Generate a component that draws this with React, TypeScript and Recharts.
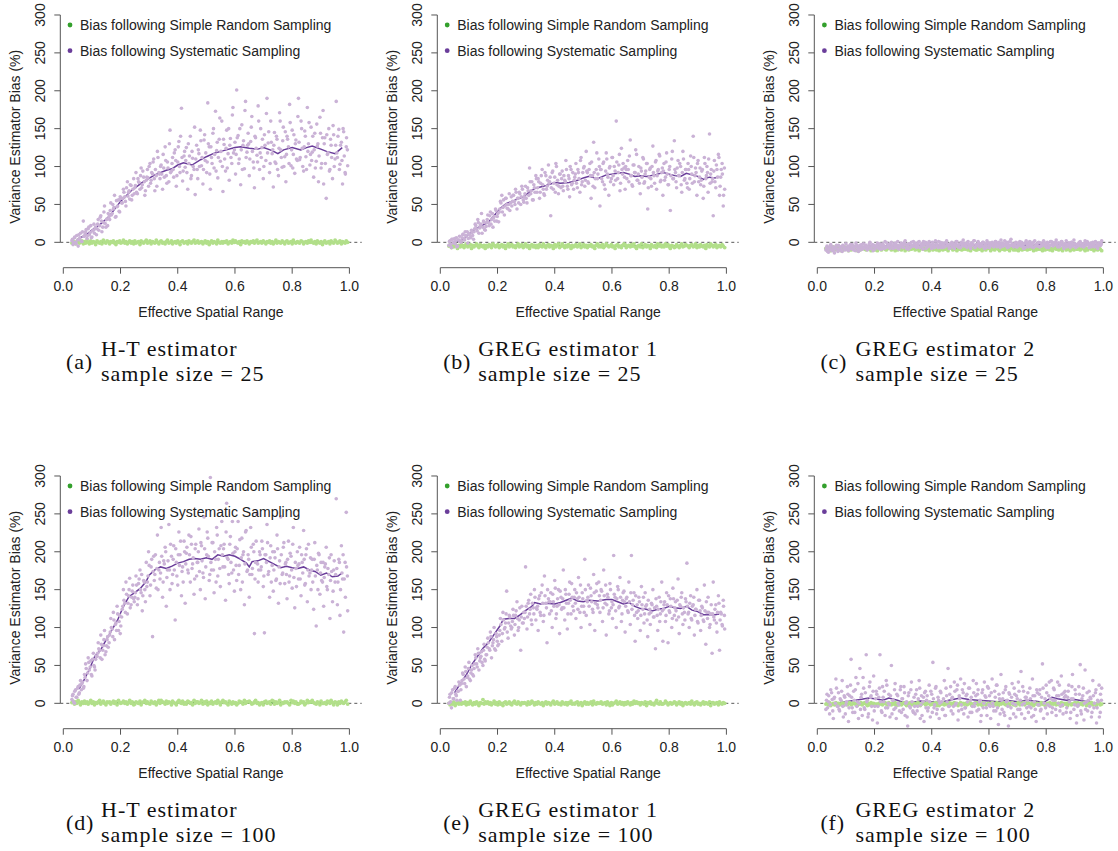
import React from 'react';
import { ComposedChart, Scatter, Line, XAxis, YAxis, ReferenceLine } from 'recharts';

// Effective spatial range of each simulated point (first and second batch, shared by all panels)
const sysX = [
  .030,.034,.039,.043,.047,.052,.056,.060,.065,.070,
  .074,.078,.083,.087,.091,.096,.100,.105,.109,.113,
  .118,.122,.127,.131,.135,.140,.144,.149,.153,.157,
  .162,.166,.171,.175,.179,.184,.188,.193,.197,.201,
  .206,.210,.215,.219,.224,.228,.232,.237,.241,.246,
  .250,.254,.259,.263,.268,.272,.276,.281,.285,.290,
  .294,.298,.303,.307,.312,.316,.320,.325,.329,.334,
  .338,.342,.347,.351,.356,.360,.364,.369,.373,.378,
  .382,.386,.391,.395,.400,.404,.408,.413,.417,.422,
  .426,.430,.435,.439,.444,.448,.452,.457,.461,.466,
  .470,.474,.479,.483,.488,.492,.496,.501,.505,.510,
  .514,.518,.523,.527,.532,.536,.540,.545,.549,.554,
  .558,.562,.567,.571,.576,.580,.584,.589,.593,.598,
  .602,.606,.611,.615,.620,.624,.628,.633,.637,.642,
  .646,.650,.655,.659,.664,.668,.672,.677,.681,.686,
  .690,.694,.699,.703,.708,.712,.716,.721,.725,.730,
  .734,.738,.743,.747,.752,.756,.760,.765,.769,.774,
  .778,.782,.787,.791,.796,.800,.804,.809,.813,.818,
  .822,.826,.831,.835,.840,.844,.848,.853,.857,.862,
  .866,.870,.875,.879,.884,.888,.892,.897,.901,.906,
  .910,.914,.919,.923,.928,.932,.936,.941,.945,.950,
  .954,.958,.963,.967,.972,.976,.980,.985,.989,.994,
];
const sysX2 = [
  .032,.036,.040,.045,.050,.054,.058,.063,.067,.072,
  .076,.080,.085,.089,.094,.098,.102,.107,.111,.116,
  .120,.124,.129,.133,.138,.142,.146,.151,.155,.160,
  .164,.168,.173,.177,.182,.186,.190,.195,.199,.204,
  .208,.212,.217,.221,.226,.230,.234,.239,.243,.248,
  .252,.256,.261,.265,.270,.274,.278,.283,.287,.292,
  .296,.300,.305,.309,.314,.318,.322,.327,.331,.336,
  .340,.344,.349,.353,.358,.362,.366,.371,.375,.380,
  .384,.388,.393,.397,.402,.406,.410,.415,.419,.424,
  .428,.432,.437,.441,.446,.450,.454,.459,.463,.468,
  .472,.476,.481,.485,.490,.494,.498,.503,.507,.512,
  .516,.520,.525,.529,.534,.538,.542,.547,.551,.556,
  .560,.564,.569,.573,.578,.582,.586,.591,.595,.600,
  .604,.608,.613,.617,.622,.626,.630,.635,.639,.644,
  .648,.652,.657,.661,.666,.670,.674,.679,.683,.688,
  .692,.696,.701,.705,.710,.714,.718,.723,.727,.732,
  .736,.740,.745,.749,.754,.758,.762,.767,.771,.776,
  .780,.784,.789,.793,.798,.802,.806,.811,.815,.820,
  .824,.828,.833,.837,.842,.846,.850,.855,.859,.864,
  .868,.872,.877,.881,.886,.890,.894,.899,.903,.908,
  .912,.916,.921,.925,.930,.934,.938,.943,.947,.952,
  .956,.960,.965,.969,.974,.978,.982,.986,.990,.993,
];

// Bias following Systematic Sampling (%), per panel, first batch
const sysA = [
  2,-3,6,0,9,-5,4,12,1,28, 8,14,5,18,10,22,7,16,12,20,
  18,30,22,35,14,26,48,20,31,38, 30,52,38,44,62,34,47,56,40,58,
  52,70,60,48,80,66,57,75,62,84, 72,92,64,80,70,98,76,86,62,82,
  96,74,104,82,90,110,68,88,120,92, 84,102,70,98,126,88,106,80,148,94,
  112,86,122,74,106,133,92,177,81,114, 99,125,70,104,140,88,111,96,63,128,
  84,117,148,101,77,135,108,92,184,126, 70,112,144,98,173,121,85,136,107,160,
  67,129,94,148,117,82,137,104,178,122, 90,201,141,110,76,155,128,97,186,119,
  144,88,133,166,106,72,138,115,180,96, 150,125,84,142,108,190,131,92,160,117,
  73,145,104,136,88,171,122,99,152,113, 80,140,126,182,101,148,116,91,135,108,
  190,109,160,124,94,147,113,178,130,102, 152,119,86,144,107,127,80,165,98,138,
  77,138,58,116,150,96,128,84,142,110, 186,112,149,103,132,77,146,92,126,101,
];
const sysB = [
  -4,2,-7,4,0,-2,6,-5,3,1, 2,10,5,14,8,-1,12,6,16,9,
  14,24,18,30,12,22,38,20,26,16, 26,36,22,40,30,20,34,44,28,38,
  40,54,62,46,36,58,50,44,64,52, 48,62,54,70,44,58,66,50,74,56,
  60,74,52,68,98,64,80,56,72,88, 66,84,58,78,96,70,62,88,74,102,
  80,35,92,70,86,104,76,64,90,72, 94,68,82,108,74,88,60,96,78,70,
  86,104,72,92,66,112,80,98,74,120, 92,78,104,58,88,132,72,96,84,110,
  48,96,80,106,70,118,90,62,100,84, 112,76,94,160,84,102,68,124,90,98,
  70,96,108,80,135,88,74,102,92,116, 82,100,64,94,112,78,90,104,44,86,
  98,74,127,88,106,70,94,116,80,92, 62,104,86,118,76,96,42,110,84,134,
  92,72,108,88,100,66,120,82,96,78, 104,70,114,90,140,80,98,62,108,86,
  76,94,58,112,84,100,66,143,90,80, 35,108,72,96,116,62,86,104,48,70,
];
const sysC = [
  -10,-5,-13,-7,-3,-11,-8,-14,-6,-9, -4,-10,-7,-12,-5,-8,-2,-9,-11,-6,
  -8,-3,-10,-5,-1,-7,-12,-4,-6,-9, -2,-7,-4,-10,-6,0,-8,-3,-5,-9,
  -6,-1,-8,-4,-9,-2,-5,1,-7,-3, -3,-8,0,-5,-2,-7,-4,1,-9,-6,
  -1,-6,-3,2,-8,-4,-2,-7,0,-5, -5,-1,-7,-3,1,-6,-2,-9,-4,0,
  -2,-6,1,-4,-8,-1,-5,2,-3,-7, -6,0,-3,-7,-1,-5,2,-4,-8,-2,
  0,-4,-8,-2,1,-6,-3,-7,-1,3, -5,-2,-7,1,-4,-8,-1,-3,2,-6,
  -3,1,-6,-2,-5,0,-8,-4,2,-1, -7,-2,0,-5,-3,1,-6,-1,-4,3,
  -1,-5,2,-3,-7,0,-4,4,-2,-6, -4,0,-6,-2,1,-5,-3,-8,-1,2,
  -2,-6,1,-4,-1,-7,2,-3,-5,0, -6,-1,-3,2,-5,-2,0,-7,-4,1,
  0,-4,-2,3,-6,-1,-5,1,-3,-8, -3,2,-5,-1,-7,0,-4,3,-2,-6,
  -5,-1,1,-4,-2,-6,2,-3,0,-7, -2,-6,0,-3,1,-5,-8,-1,-4,2,
];
const sysD = [
  5,12,0,18,8,22,14,30,26,20, 38,52,30,60,44,56,36,66,48,58,
  62,80,70,90,58,76,96,68,84,74, 90,112,98,120,84,106,128,96,116,102,
  124,150,132,160,118,142,165,130,148,138, 140,168,130,158,176,146,122,162,150,186,
  160,200,142,180,88,194,170,152,222,176, 164,232,140,188,206,128,176,236,150,194,
  170,208,110,186,156,226,196,142,180,214, 132,198,176,222,160,210,184,144,204,168,
  186,230,150,208,172,246,138,196,218,162, 298,176,212,146,190,232,168,204,154,240,
  180,210,136,264,190,158,220,172,198,148, 206,162,240,182,150,218,196,130,226,174,
  196,140,232,170,210,92,186,250,160,200, 176,214,154,93,196,236,170,140,208,182,
  148,200,162,222,132,188,246,170,206,158, 186,138,214,168,194,152,232,126,178,200,
  164,206,142,186,228,156,196,134,210,172, 150,190,124,212,102,176,198,144,186,160,
  128,180,206,150,170,112,196,134,176,160, 270,130,190,116,208,164,94,186,252,122,
];
const sysE = [
  0,12,-6,18,6,22,10,16,28,4, 26,40,32,48,22,36,54,30,44,38,
  46,64,52,72,44,60,68,50,78,56, 64,86,72,94,60,80,100,70,88,76,
  90,112,82,120,98,106,148,86,116,102, 100,124,90,116,134,96,110,70,128,106,
  112,180,98,132,118,144,104,126,150,110, 124,96,142,116,156,108,168,132,80,138,
  118,146,100,134,162,112,128,150,92,140, 126,176,110,144,98,132,160,118,140,122,
  150,112,138,166,120,100,146,128,190,116, 134,156,104,142,124,170,96,148,130,160,
  120,150,108,176,132,90,144,118,158,126, 112,195,140,100,154,126,166,108,136,148,
  94,138,122,160,104,195,130,146,82,120, 112,140,96,154,124,106,146,130,88,118,
  104,132,150,114,72,128,96,140,118,160, 82,130,108,146,80,122,138,100,152,116,
  134,110,164,92,128,146,104,120,138,185, 118,100,142,110,130,90,124,150,106,136,
  96,128,110,156,78,120,140,100,118,66, 160,110,130,94,142,70,120,104,136,98,
];
const sysF = [
  -8,12,2,-14,18,5,-20,8,32,-4, 14,-10,4,30,-18,8,-2,22,-24,10,
  58,-6,16,-12,34,2,-20,46,8,-16, 20,-8,64,4,-14,28,10,-22,36,-4,
  16,-26,8,64,-10,22,2,-16,30,-6, 12,-18,50,4,-8,26,-20,10,-2,18,
  -12,6,22,-16,2,-30,14,-6,28,-10, 8,-14,18,-4,30,-20,10,2,-24,16,
  4,-10,24,-18,12,54,-6,20,-14,8, -20,16,2,-8,30,-16,10,46,-4,22,
  6,-14,28,-2,18,-22,10,32,-8,14, 26,-6,12,-18,20,4,-12,30,-4,10,
  -10,18,2,-24,14,-6,28,8,-16,20, 10,-20,32,-4,16,-10,24,-28,6,38,
  -8,14,-16,22,4,-30,12,-6,26,-14, 12,-18,6,28,-8,42,-2,16,-20,8,
  4,-12,20,-6,32,-16,10,-24,14,-2, 18,-8,52,-20,6,24,-14,10,-4,30,
  -6,20,4,-16,28,10,-10,36,-2,14, 16,-12,8,24,-20,6,38,-8,18,-26,
  -4,22,51,-14,10,-22,44,2,-10,16, 8,-18,30,-6,14,-26,4,24,-12,20,
];

// Bias following Systematic Sampling (%), per panel, second batch
const sysA2 = [
  4,0,7,-2,3,10,6,1,14,8, 11,17,9,20,13,6,15,24,18,10,
  24,16,33,28,20,40,25,30,22,34, 42,36,50,46,33,55,48,41,60,52,
  58,66,54,72,61,68,76,56,70,64, 75,66,84,79,88,72,94,80,68,86,
  85,100,78,92,106,84,96,74,112,90, 100,90,116,86,108,78,98,130,92,104,
  96,118,108,88,126,100,140,112,94,120, 108,92,130,114,84,120,100,152,110,96,
  122,100,134,112,96,142,118,106,130,90, 126,104,150,116,94,132,112,164,120,100,
  136,110,124,98,150,128,112,168,118,132, 116,138,104,150,122,96,134,174,112,128,
  130,110,152,120,98,140,124,106,160,118, 112,136,100,128,170,118,146,104,132,122,
  128,106,140,96,124,160,112,134,100,146, 116,136,104,158,122,98,142,130,110,166,
  132,112,150,100,126,140,96,120,158,116, 108,140,122,98,156,130,114,144,104,174,
  130,104,142,118,94,136,112,154,100,128, 118,140,96,128,108,150,114,90,138,122,
];
const sysB2 = [
  1,-3,4,-1,5,2,-6,3,8,0, 6,11,3,9,14,5,10,7,13,4,
  18,22,15,26,19,24,12,28,17,21, 30,26,35,24,38,32,28,42,34,27,
  44,52,40,56,48,58,45,50,42,60, 54,62,50,66,58,52,64,60,70,53,
  64,58,72,62,80,68,56,76,66,84, 72,80,66,88,76,64,92,70,82,78,
  86,72,94,78,66,100,82,74,90,84, 74,88,80,96,70,84,100,76,92,82,
  90,78,96,84,108,76,92,100,82,94, 80,96,88,106,74,92,84,118,90,100,
  96,84,104,76,94,110,86,98,80,112, 88,100,82,106,92,116,78,96,104,86,
  100,84,96,114,88,76,102,92,122,82, 90,78,98,86,110,80,94,104,72,96,
  84,100,92,78,108,88,96,114,82,98, 94,82,106,90,76,100,88,120,84,96,
  80,98,88,104,76,92,110,84,96,72, 96,84,100,78,112,88,92,104,80,98,
  82,96,74,104,88,92,110,78,96,84, 94,80,102,86,112,74,96,90,62,98,
];
const sysC2 = [
  -7,-12,-9,-5,-10,-6,-11,-8,-4,-12, -9,-6,-11,-4,-8,-10,-7,-5,-9,-3,
  -5,-9,-7,-11,-4,-8,-6,-10,-3,-7, -7,-4,-9,-6,-2,-8,-5,-11,-4,-6,
  -4,-7,-2,-9,-5,-3,-8,-6,-1,-5, -6,-2,-5,-8,-3,-1,-7,-4,-6,-2,
  -4,-7,0,-3,-5,-9,-2,-6,-4,1, -2,-6,-4,0,-7,-3,-5,1,-2,-8,
  -5,-1,-3,-6,0,-4,-7,-2,-5,1, -3,-7,-1,-4,-6,0,-2,-5,-8,-3,
  -6,-2,-4,1,-5,-3,-7,0,-4,-1, -2,-5,0,-3,-6,-1,-4,2,-7,-3,
  -4,-1,-6,-3,0,-5,-2,-7,-1,-4, -1,-4,-2,-6,1,-3,-5,0,-7,-2,
  -5,-2,-4,0,-3,-6,1,-4,-2,-5, -2,-6,-1,-4,-3,0,-5,-2,-7,-1,
  -4,0,-3,-6,-2,1,-5,-3,-1,-6, -1,-5,-3,0,-4,-7,-2,-4,1,-3,
  -5,-2,0,-4,-1,-6,-3,1,-5,-2, -2,-6,-3,-1,-4,0,-5,-2,-7,-3,
  -3,0,-5,-2,-6,-1,-4,1,-3,-5, -1,-4,-2,-6,0,-3,-5,-1,-4,-2,
];
const sysD2 = [
  10,2,16,8,20,12,24,18,28,22, 34,46,40,54,48,38,58,50,44,62,
  66,72,60,78,70,84,64,76,88,80, 94,100,88,110,104,96,118,108,92,114,
  128,136,120,144,132,150,126,140,156,134, 146,156,138,164,150,170,142,160,134,154,
  168,182,156,190,174,162,196,178,150,186, 172,194,160,184,200,166,188,176,210,158,
  190,176,204,168,196,182,214,174,160,200, 184,206,172,196,220,178,192,164,210,186,
  200,174,212,188,166,204,180,226,194,170, 186,212,176,200,160,222,190,178,208,196,
  204,180,226,192,170,210,186,240,176,200, 182,204,170,216,192,160,200,184,228,176,
  190,170,206,178,200,164,214,184,176,196, 180,204,168,196,186,212,174,192,160,200,
  176,192,164,204,180,158,196,172,212,184, 170,190,160,198,176,210,166,186,154,182,
  184,164,196,172,190,158,204,176,168,192, 176,160,190,168,182,150,196,172,162,186,
  166,184,154,178,192,162,174,148,188,170, 178,160,186,150,172,196,164,140,180,168,
];
const sysE2 = [
  8,2,14,6,20,12,4,16,24,18, 30,38,26,42,34,46,32,40,50,36,
  52,60,48,66,56,62,54,70,58,64, 74,80,70,88,76,84,72,92,82,78,
  96,104,92,110,100,118,94,106,114,98, 108,116,104,122,112,100,126,114,106,120,
  120,128,114,136,124,110,132,118,140,126, 128,138,120,146,132,116,142,126,150,134,
  134,122,144,128,152,118,138,130,148,124, 138,126,150,132,118,144,136,158,128,140,
  132,146,124,140,156,128,138,120,150,136, 140,128,152,134,120,146,132,158,126,142,
  136,148,126,142,156,130,140,122,150,134, 130,144,122,138,150,128,140,118,146,134,
  128,140,120,134,146,124,136,116,142,130, 122,134,116,130,140,118,128,110,136,124,
  120,130,114,126,138,116,124,108,134,122, 124,134,116,130,142,120,128,112,138,126,
  122,136,114,130,140,118,126,110,134,128, 120,132,112,128,140,116,124,108,136,122,
  116,126,108,122,134,112,120,104,130,118, 114,124,106,120,132,110,118,102,128,116,
];
const sysF2 = [
  4,-6,10,-2,14,-10,6,0,20,-4, -8,6,16,-4,10,-14,2,12,-6,24,
  8,-12,4,18,-4,26,0,-8,12,34, -6,14,2,-18,22,8,-4,16,-10,6,
  12,-4,20,2,-12,8,16,-6,24,0, -2,10,-14,4,18,-6,12,0,-10,22,
  6,-8,14,0,-18,10,-4,18,2,-12, -4,12,-10,6,20,-2,-16,8,14,-6,
  10,-6,2,16,-12,6,-2,22,-8,4, 0,14,-8,6,-16,20,2,-4,12,-10,
  8,-4,16,0,24,-10,6,-2,18,-14, -6,10,2,20,-12,8,-4,14,0,26,
  12,-8,4,-16,18,0,10,-6,22,-2, -4,14,0,-10,8,24,-6,12,-14,4,
  6,-12,18,2,-4,14,-20,8,0,20, -2,10,-8,16,4,-14,22,0,8,-6,
  14,-4,6,-18,10,2,-8,18,-2,12, -10,8,20,0,-6,14,-2,28,6,-12,
  4,18,-8,10,0,24,-4,12,-14,8, 10,-6,16,2,-12,22,6,-2,12,-16,
  -2,12,-10,6,20,0,-8,14,4,-4, 6,-12,10,0,18,-6,2,-18,12,4,
];

// Bias following Simple Random Sampling (%), per panel
const srsA = [
  -1,2,0,-2,1,3,-1,0,2,-2, 1,-1,3,0,-2,2,-1,1,0,-3, 2,0,-1,1,-2,3,0,-1,2,1,
  -2,1,0,2,-1,-3,1,0,2,-1, 0,3,-1,1,-2,0,2,-1,1,-2, 2,-1,0,1,-3,2,0,-1,1,3,
  -1,0,2,-2,1,0,-1,3,0,-2, 1,2,-1,0,-2,1,3,-1,0,2, -2,0,1,-1,2,0,-3,1,2,-1,
  0,1,-2,2,0,-1,1,3,-1,0, 2,-1,0,1,-2,0,2,-1,1,-3, 0,2,-1,1,0,-2,3,0,-1,1,
  -1,1,0,2,-2,0,1,-1,3,0, 2,0,-1,1,-3,2,0,1,-1,2, 0,-2,1,0,2,-1,1,3,-1,0,
  1,-1,2,0,-2,1,0,2,-1,1, -2,0,3,-1,1,0,-1,2,0,-2, 1,2,-1,0,1,-2,3,0,-1,1,
  0,-1,2,1,-2,0,1,-1,2,0, 3,0,-1,1,-2,2,0,-1,1,-3, 0,2,-1,0,1,-2,2,0,-1,3,
  1,-1,0,2,-2,1,0,-1,2,0,
];
const srsB = [
  -5,-3,-7,-4,-6,-2,-5,-8,-4,-6, -3,-5,-7,-4,-2,-6,-5,-3,-8,-4, -6,-4,-2,-5,-7,-3,-5,-6,-4,-8,
  -4,-6,-3,-5,-7,-2,-4,-6,-5,-3, -7,-5,-3,-6,-4,-8,-5,-2,-6,-4, -3,-6,-5,-7,-4,-2,-6,-5,-3,-7,
  -5,-2,-6,-4,-8,-5,-3,-6,-4,-7, -4,-7,-3,-5,-6,-2,-5,-7,-4,-3, -6,-4,-5,-8,-3,-6,-4,-2,-7,-5,
  -2,-5,-7,-4,-6,-3,-5,-8,-4,-6, -5,-3,-6,-4,-2,-7,-5,-3,-6,-4, -7,-4,-5,-3,-6,-5,-8,-4,-2,-6,
  -4,-6,-3,-7,-5,-2,-4,-6,-5,-3, -6,-5,-8,-4,-3,-6,-5,-7,-4,-2, -3,-7,-5,-4,-6,-3,-5,-2,-6,-8,
  -5,-4,-6,-2,-7,-5,-3,-6,-4,-5, -8,-3,-5,-6,-4,-7,-2,-5,-3,-6, -4,-6,-2,-5,-3,-6,-8,-4,-5,-7,
  -6,-3,-5,-7,-4,-2,-6,-5,-3,-4, -5,-7,-4,-3,-6,-5,-2,-7,-4,-6, -3,-5,-6,-4,-8,-3,-5,-6,-2,-4,
  -6,-4,-3,-7,-5,-4,-6,-3,-5,-7,
];
const srsC = [
  -8,-10,-7,-9,-11,-8,-6,-10,-9,-7, -9,-7,-11,-8,-10,-6,-9,-8,-11,-7, -10,-8,-6,-9,-7,-11,-8,-10,-9,-7,
  -7,-9,-10,-8,-6,-9,-11,-7,-8,-10, -9,-11,-8,-7,-10,-8,-6,-9,-10,-8, -8,-6,-10,-9,-7,-11,-8,-10,-7,-9,
  -10,-8,-7,-11,-9,-6,-10,-8,-9,-7, -7,-10,-9,-8,-11,-8,-7,-9,-6,-10, -9,-7,-11,-8,-6,-10,-9,-7,-10,-8,
  -11,-9,-7,-10,-8,-9,-6,-11,-8,-7, -8,-10,-9,-6,-11,-7,-9,-8,-10,-9, -7,-9,-8,-10,-7,-11,-8,-6,-9,-10,
  -10,-7,-9,-8,-11,-9,-7,-10,-8,-6, -8,-11,-7,-9,-10,-8,-6,-9,-11,-7, -9,-8,-10,-7,-9,-6,-11,-8,-7,-10,
  -6,-10,-8,-11,-7,-9,-10,-8,-9,-7, -10,-7,-9,-8,-6,-11,-8,-10,-7,-9, -8,-9,-11,-7,-10,-8,-9,-6,-10,-8,
  -11,-8,-7,-9,-8,-10,-7,-9,-11,-6, -7,-10,-9,-8,-11,-7,-9,-10,-8,-9, -9,-6,-10,-8,-7,-9,-11,-8,-10,-7,
  -8,-9,-7,-11,-9,-8,-10,-6,-9,-11,
];
const srsD = [
  1,3,-1,2,0,4,1,-2,2,0, 3,0,2,-1,1,4,0,2,-2,1, 0,2,4,-1,1,3,0,-2,2,1,
  2,-1,1,3,0,2,-2,4,1,0, 1,3,0,2,-1,1,4,0,2,-2, -1,2,1,0,3,-2,1,2,4,0,
  2,0,-1,3,1,0,2,-2,1,4, 0,4,2,1,-1,3,0,2,1,-2, 3,1,0,-2,2,4,1,0,3,-1,
  1,-1,3,2,0,1,-2,4,0,2, 2,0,1,4,-1,2,0,3,-2,1, 0,3,-1,1,2,0,4,1,-2,2,
  4,1,2,0,-2,3,1,-1,2,0, 1,-2,0,3,2,1,-1,4,0,2, 2,3,1,-1,0,2,4,0,1,-2,
  0,1,-2,2,3,0,1,2,-1,4, 3,-1,2,0,1,4,-2,1,0,2, 1,2,0,-2,4,1,3,0,2,-1,
  -1,0,3,1,2,-2,0,4,1,2, 2,4,1,0,-1,2,1,-2,3,0, 0,1,-1,3,2,0,4,1,-2,2,
  1,-2,2,0,3,1,0,2,4,-1,
];
const srsE = [
  0,-2,1,-1,2,-3,0,1,-1,2, -1,1,0,2,-2,1,-1,3,0,-2, 1,-1,2,0,-3,1,0,5,-1,2,
  0,2,-1,1,-2,0,3,-1,1,-2, 2,-1,0,-3,1,2,-1,0,2,-1, -2,1,3,0,-1,2,0,-2,1,0,
  1,0,-2,2,-1,0,3,1,-2,1, -1,2,0,-1,1,-3,0,2,-1,1, 0,-2,1,3,-1,0,2,-1,0,-2,
  2,0,-1,1,-2,1,0,3,-1,0, -1,1,2,-2,0,1,-3,0,2,-1, 1,-1,0,2,-2,3,0,-1,1,0,
  0,2,-1,0,1,-2,2,0,-3,1, -2,0,1,3,-1,0,2,-1,1,-2, 1,-1,2,0,-2,1,-1,3,0,2,
  0,1,-2,1,0,-1,2,-3,1,0, 2,-1,0,-2,1,4,0,-1,2,-1, -1,0,3,1,-2,0,1,-1,0,2,
  1,-2,0,2,-1,1,-3,0,1,-1, 0,1,-1,3,0,-2,1,2,-1,0, -2,0,2,-1,1,0,-1,2,-3,1,
  1,-1,0,1,-2,2,0,-1,1,0,
];
const srsF = [
  -1,0,-2,1,-3,-1,0,-2,1,-1, 0,-2,-1,1,-3,0,-1,-2,0,1, -2,-1,1,0,-2,-3,0,-1,1,-2,
  0,1,-1,-3,0,-2,1,-1,0,-2, -1,-3,0,-1,1,-2,0,1,-1,-2, 1,-1,-2,0,-1,1,-3,0,-2,0,
  -2,0,1,-1,-3,0,-1,1,-2,-1, 0,-1,-2,1,0,-3,-1,0,1,-2, -1,1,0,-2,-1,0,-2,1,-3,0,
  -3,0,-1,1,-2,-1,0,-2,1,-1, 0,-2,1,-1,0,-3,-1,1,-2,0, -1,0,-2,-1,1,0,-3,-1,0,1,
  1,-2,0,-1,-3,1,0,-2,-1,0, -2,-1,1,0,-1,-2,1,-3,0,-1, 0,1,-1,-2,0,-1,-3,0,1,-2,
  -1,-3,0,1,-2,0,-1,1,-2,0, 1,0,-2,-1,0,-3,1,-1,0,-2, -2,1,-1,0,-3,-1,0,-2,1,-1,
  0,-1,1,-2,-1,0,-2,1,-3,0, -1,0,-3,1,0,-2,-1,0,1,-2, 1,-2,0,-1,-2,1,0,-3,-1,0,
  -1,1,-2,0,-1,-3,0,1,-2,-1,
];

// Running means [x, bias %]
const sysLineA: [number, number][] = [[.05,4],[.08,10],[.1,16],[.13,24],[.16,34],[.2,54],[.24,69],[.28,80],[.32,89],[.36,95],[.38,97],[.4,102],[.42,105],[.45,102],[.48,109],[.5,113],[.53,118],[.56,121],[.6,125],[.62,126],[.65,124],[.68,123],[.7,125],[.73,121],[.75,117],[.77,122],[.8,125],[.83,122],[.85,125],[.87,127],[.9,123],[.92,120],[.95,117],[.975,125]];
const sysLineB: [number, number][] = [[.05,0],[.07,2],[.09,7],[.11,14],[.13,19],[.15,23],[.17,27],[.19,36],[.21,45],[.23,51],[.25,54],[.27,57],[.29,60],[.31,66],[.33,71],[.35,73],[.37,75],[.4,79],[.42,78],[.45,79],[.48,82],[.5,85],[.52,87],[.55,84],[.58,89],[.6,90],[.62,91],[.64,92],[.66,90],[.68,87],[.7,88],[.72,87],[.75,89],[.78,92],[.8,90],[.82,88],[.84,87],[.86,91],[.88,89],[.9,87],[.92,83],[.94,86],[.96,85],[.975,87]];
const sysLineC: [number, number][] = [[.05,-8],[.1,-7],[.15,-5.7],[.2,-5],[.3,-4.4],[.4,-4],[.5,-3.5],[.6,-3.6],[.7,-3.5],[.8,-3.3],[.9,-3],[.975,-3.5]];
const sysLineD: [number, number][] = [[.055,19],[.07,29],[.09,44],[.11,62],[.13,70],[.15,84],[.17,97],[.19,110],[.21,128],[.23,141],[.25,146],[.27,152],[.29,161],[.3,169],[.32,176],[.34,180],[.36,178],[.38,181],[.4,185],[.42,187],[.44,190],[.46,191],[.48,190],[.5,192],[.52,190],[.54,196],[.56,194],[.58,196],[.6,194],[.62,190],[.64,185],[.65,180],[.66,187],[.68,188],[.7,191],[.72,187],[.74,183],[.76,179],[.78,181],[.8,179],[.82,178],[.84,180],[.86,176],[.88,174],[.9,169],[.92,172],[.94,167],[.96,168],[.975,172]];
const sysLineE: [number, number][] = [[.05,14],[.07,26],[.09,37],[.11,51],[.13,62],[.15,73],[.17,81],[.19,92],[.21,103],[.22,111],[.24,112],[.26,112],[.28,117],[.3,123],[.32,128],[.33,133],[.35,131],[.37,132],[.4,131],[.42,133],[.44,136],[.46,139],[.48,135],[.5,134],[.52,136],[.55,135],[.58,137],[.6,137],[.62,134],[.64,131],[.66,133],[.68,128],[.7,125],[.72,124],[.74,122],[.76,124],[.78,125],[.8,128],[.82,126],[.84,125],[.86,128],[.88,123],[.9,121],[.92,117],[.94,117],[.96,117],[.975,118]];
const sysLineF: [number, number][] = [[.05,-1],[.1,2],[.15,5],[.18,7],[.2,6],[.23,4],[.25,7],[.28,4],[.3,1],[.33,1],[.36,3],[.4,2],[.43,1],[.46,4],[.5,7],[.53,5],[.56,4],[.6,3],[.63,2],[.66,4],[.7,2],[.73,4],[.76,3],[.79,1],[.82,8],[.84,6],[.87,4],[.9,5],[.93,3],[.96,1],[.975,0]];

const srsLineA: [number, number][] = [[.05,0],[.3,0],[.6,.3],[.975,0]];
const srsLineB: [number, number][] = [[.05,-4],[.3,-4.3],[.6,-4.5],[.975,-4.6]];
const srsLineC: [number, number][] = [[.05,-8],[.3,-8.4],[.6,-8.3],[.975,-8.4]];
const srsLineD: [number, number][] = [[.05,.5],[.5,.8],[.975,.6]];
const srsLineE: [number, number][] = [[.05,0],[.5,0],[.975,-.3]];
const srsLineF: [number, number][] = [[.05,-1],[.5,-1],[.975,-1.2]];

const panelLetters = ['(a)', '(b)', '(c)', '(d)', '(e)', '(f)'];
const panelEstimators = ['H-T estimator', 'GREG estimator 1', 'GREG estimator 2', 'H-T estimator', 'GREG estimator 1', 'GREG estimator 2'];
const panelSizes = ['sample size = 25', 'sample size = 25', 'sample size = 25', 'sample size = 100', 'sample size = 100', 'sample size = 100'];
const legendLabels = ['Bias following Simple Random Sampling', 'Bias following Systematic Sampling'];
const xTicks = [0, 0.2, 0.4, 0.6, 0.8, 1];
const yTicks = [0, 50, 100, 150, 200, 250, 300];
const xTitle = 'Effective Spatial Range';
const yTitle = 'Variance Estimator Bias (%)';

const LIGHT_GREEN = '#B2DF8A';
const DARK_GREEN = '#33A02C';
const LIGHT_PURPLE = '#CAB2D6';
const DARK_PURPLE = '#6A3D9A';
const AXIS = '#555';
const TEXT = '#222';
const SANS = '"Liberation Sans", Arimo, Arial, sans-serif';
const SERIF = '"Liberation Serif", "Times New Roman", serif';

const X_DOMAIN: [number, number] = [-0.0105, 1.043];
const Y_DOMAIN: [number, number] = [-33.5, 312];
const COL_W = 377.2;
const ROW_H = 461;

const zip = (xs: number[], ys: number[]) => xs.map((x, i) => ({ x, y: ys[i] }));
const pairs = (a: [number, number][]) => a.map(([x, y]) => ({ x, y }));

const dot = (color: string, r: number) => (p: any) =>
  p.cx == null || p.cy == null ? <g /> : <circle cx={p.cx} cy={p.cy} r={r} fill={color} />;

const XTick = (p: any) => (
  <text x={p.x} y={p.y + 17} textAnchor="middle" fontSize={14} fontFamily={SANS} fill={TEXT}>
    {Number(p.payload.value).toFixed(1)}
  </text>
);
const YTick = (p: any) => {
  const bx = p.x - 9;
  return (
    <text x={bx} y={p.y} transform={`rotate(-90 ${bx} ${p.y})`} textAnchor="middle" fontSize={14} fontFamily={SANS} fill={TEXT}>
      {p.payload.value}
    </text>
  );
};

const panels = [
  { sys: sysA, sys2: sysA2, srs: srsA, sysLine: sysLineA, srsLine: srsLineA },
  { sys: sysB, sys2: sysB2, srs: srsB, sysLine: sysLineB, srsLine: srsLineB },
  { sys: sysC, sys2: sysC2, srs: srsC, sysLine: sysLineC, srsLine: srsLineC },
  { sys: sysD, sys2: sysD2, srs: srsD, sysLine: sysLineD, srsLine: srsLineD },
  { sys: sysE, sys2: sysE2, srs: srsE, sysLine: sysLineE, srsLine: srsLineE },
  { sys: sysF, sys2: sysF2, srs: srsF, sysLine: sysLineF, srsLine: srsLineF },
];

function Panel({ idx }: { idx: number }) {
  const pd = panels[idx];
  const col = idx % 3;
  const row = Math.floor(idx / 3);
  return (
    <div style={{ position: 'absolute', left: col * COL_W, top: row * ROW_H, width: 377, height: 300 }}>
      <ComposedChart width={377} height={300} margin={{ top: 5.9, right: 15.3, bottom: 0, left: 0 }}>
        <XAxis type="number" dataKey="x" domain={X_DOMAIN} ticks={xTicks} allowDataOverflow axisLine={false}
          tickSize={6} tickMargin={0} tickLine={{ stroke: AXIS }} tick={<XTick />} height={32.3} interval={0} />
        <YAxis type="number" dataKey="y" domain={Y_DOMAIN} ticks={yTicks} allowDataOverflow axisLine={false}
          tickSize={6} tickMargin={0} tickLine={{ stroke: AXIS }} tick={<YTick />} width={60.3} interval={0} />
        <Scatter data={zip(sysX, pd.srs)} dataKey="y" fill={LIGHT_GREEN} shape={dot(LIGHT_GREEN, 1.9)} isAnimationActive={false} />
        <Scatter data={zip(sysX, pd.sys)} dataKey="y" fill={LIGHT_PURPLE} shape={dot(LIGHT_PURPLE, 1.8)} isAnimationActive={false} />
        <Scatter data={zip(sysX2, pd.sys2)} dataKey="y" fill={LIGHT_PURPLE} shape={dot(LIGHT_PURPLE, 1.8)} isAnimationActive={false} />
        <Line data={pairs(pd.srsLine)} dataKey="y" type="linear" stroke={DARK_GREEN} strokeWidth={1.6} dot={false} activeDot={false} isAnimationActive={false} />
        <Line data={pairs(pd.sysLine)} dataKey="y" type="linear" stroke={DARK_PURPLE} strokeWidth={1.5} dot={false} activeDot={false} isAnimationActive={false} />
        <ReferenceLine y={0} stroke="#444" strokeWidth={0.9} strokeDasharray="3 3" />
        <ReferenceLine segment={[{ x: 0, y: Y_DOMAIN[0] }, { x: 1, y: Y_DOMAIN[0] }]} stroke={AXIS} ifOverflow="visible" />
        <ReferenceLine segment={[{ x: X_DOMAIN[0], y: 0 }, { x: X_DOMAIN[0], y: 300 }]} stroke={AXIS} ifOverflow="visible" />
      </ComposedChart>
    </div>
  );
}

function Overlay() {
  const items: React.ReactNode[] = [];
  for (let idx = 0; idx < 6; idx++) {
    const ox = (idx % 3) * COL_W;
    const oy = Math.floor(idx / 3) * ROW_H;
    items.push(
      <g key={idx}>
        <circle cx={ox + 70} cy={oy + 25} r={2.4} fill={DARK_GREEN} />
        <text x={ox + 80} y={oy + 30} fontSize={14} fontFamily={SANS} fill={TEXT}>{legendLabels[0]}</text>
        <circle cx={ox + 70} cy={oy + 50.7} r={2.4} fill={DARK_PURPLE} />
        <text x={ox + 80} y={oy + 55.7} fontSize={14} fontFamily={SANS} fill={TEXT}>{legendLabels[1]}</text>
        <text x={ox + 211} y={oy + 316.7} textAnchor="middle" fontSize={14} fontFamily={SANS} fill={TEXT}>{xTitle}</text>
        <text x={ox + 20} y={oy + 136.8} transform={`rotate(-90 ${ox + 20} ${oy + 136.8})`} textAnchor="middle" fontSize={14} fontFamily={SANS} fill={TEXT}>{yTitle}</text>
        <text x={ox + 66} y={oy + 369} fontSize={22} letterSpacing={0.8} fontFamily={SERIF} fill="#111">{panelLetters[idx]}</text>
        <text x={ox + 101} y={oy + 356} fontSize={22} letterSpacing={1} fontFamily={SERIF} fill="#111">{panelEstimators[idx]}</text>
        <text x={ox + 101} y={oy + 381} fontSize={22} letterSpacing={1} fontFamily={SERIF} fill="#111">{panelSizes[idx]}</text>
      </g>
    );
  }
  return (
    <svg width={1118} height={851} style={{ position: 'absolute', left: 0, top: 0, pointerEvents: 'none' }}>
      {items}
    </svg>
  );
}

export default function App() {
  return (
    <div style={{ position: 'absolute', left: 0, top: 0, width: 1118, height: 851, background: '#fff', overflow: 'hidden' }}>
      {[0, 1, 2, 3, 4, 5].map((i) => <Panel key={i} idx={i} />)}
      <Overlay />
    </div>
  );
}
